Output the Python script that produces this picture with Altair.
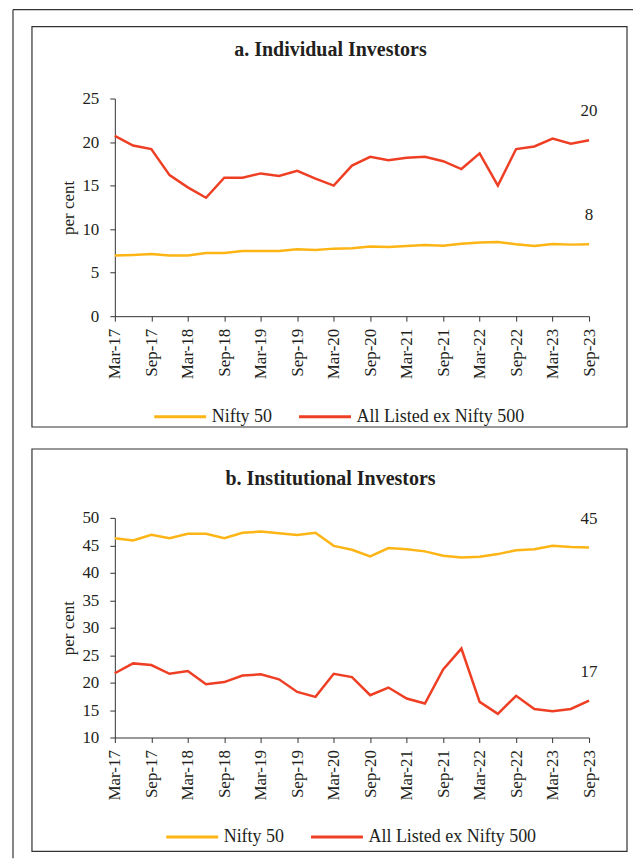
import altair as alt
import pandas as pd

quarters = ["Mar-17", "Jun-17", "Sep-17", "Dec-17", "Mar-18", "Jun-18", "Sep-18",
            "Dec-18", "Mar-19", "Jun-19", "Sep-19", "Dec-19", "Mar-20", "Jun-20",
            "Sep-20", "Dec-20", "Mar-21", "Jun-21", "Sep-21", "Dec-21", "Mar-22",
            "Jun-22", "Sep-22", "Dec-22", "Mar-23", "Jun-23", "Sep-23"]
series_names = ["Nifty 50", "All Listed ex Nifty 500"]
series_colors = ["#FDB515", "#EE3F24"]
panel_titles = ["a. Individual Investors", "b. Institutional Investors"]

ind_nifty50 = [6.96, 7.04, 7.15, 6.96, 6.96, 7.27, 7.27, 7.5, 7.5, 7.5, 7.7, 7.6, 7.76, 7.8,
               8.0, 7.95, 8.07, 8.18, 8.1, 8.33, 8.45, 8.52, 8.26, 8.07, 8.3, 8.22, 8.26]
ind_ex500 = [20.7, 19.6, 19.2, 16.2, 14.8, 13.6, 15.9, 15.9, 16.4, 16.1, 16.7, 15.8, 15.0, 17.3,
             18.3, 17.9, 18.2, 18.3, 17.8, 16.9, 18.7, 15.0, 19.2, 19.5, 20.4, 19.8, 20.2]
inst_nifty50 = [46.3, 45.9, 46.9, 46.3, 47.1, 47.1, 46.3, 47.3, 47.5, 47.2, 46.9, 47.3, 44.9, 44.2,
                43.0, 44.5, 44.3, 43.9, 43.1, 42.8, 42.9, 43.4, 44.1, 44.3, 44.9, 44.7, 44.6]
inst_ex500 = [21.7, 23.5, 23.2, 21.6, 22.1, 19.7, 20.1, 21.3, 21.5, 20.6, 18.3, 17.4, 21.6, 21.0,
              17.7, 19.1, 17.1, 16.2, 22.4, 26.2, 16.5, 14.3, 17.6, 15.2, 14.8, 15.2, 16.7]

FONT = "Liberation Serif"
INK = "#231F20"
LINE = "#333333"
W = 475
N = len(quarters)

label_expr = "[" + ",".join("'%s'" % q for q in quarters) + "][datum.value]"
one = pd.DataFrame({"k": [0]})


def panel(nifty, ex500, title, ydom, ystep, height, box, title_xy, legend_xy, outer=False):
    rows = []
    for name, vals in zip(series_names, [nifty, ex500]):
        for i, v in enumerate(vals):
            rows.append({"idx": i, "series": name, "value": v})
    df = pd.DataFrame(rows)
    ann = pd.DataFrame({
        "idx": [N - 1, N - 1],
        "value": [nifty[-1], ex500[-1]],
        "label": [str(int(round(nifty[-1]))), str(int(round(ex500[-1])))],
    })
    x = alt.X("idx:Q",
              scale=alt.Scale(domain=[0, N - 1], nice=False, zero=False),
              axis=alt.Axis(values=list(range(0, N, 2)), labelExpr=label_expr,
                            labelAngle=-90, title=None, grid=False, tickSize=5,
                            labelPadding=7, labelFlush=False, labelOverlap=False,
                            labelSeparation=0, labelBound=False,
                            domainColor=LINE, tickColor=LINE, labelFont=FONT,
                            labelFontSize=17, labelColor=INK))
    y = alt.Y("value:Q",
              scale=alt.Scale(domain=ydom, nice=False, zero=False),
              axis=alt.Axis(values=list(range(ydom[0], ydom[1] + 1, ystep)),
                            title="per cent", grid=False, tickSize=5, labelPadding=11,
                            labelOverlap=False, labelFlush=False, labelBound=False,
                            domainColor=LINE, tickColor=LINE, labelFont=FONT,
                            labelFontSize=17, labelColor=INK, titleFont=FONT,
                            titleFontSize=17, titleFontWeight="normal",
                            titleColor=INK, titlePadding=4))
    lines = alt.Chart(df).mark_line(strokeWidth=2.5).encode(
        x=x, y=y,
        color=alt.Color("series:N",
                        scale=alt.Scale(domain=series_names, range=series_colors),
                        sort=series_names,
                        legend=alt.Legend(orient="none", legendX=legend_xy[0],
                                          legendY=legend_xy[1], direction="horizontal",
                                          title=None, symbolType="stroke",
                                          symbolSize=2704, symbolStrokeWidth=3,
                                          labelFont=FONT, labelFontSize=18,
                                          labelColor=INK, labelOffset=4,
                                          labelLimit=400, columnPadding=20)),
    )
    texts = alt.Chart(ann).mark_text(dy=-29, font=FONT, fontSize=17, color=INK).encode(
        x=x, y=y, text="label:N")
    frame = alt.Chart(one).mark_rect(filled=False, stroke=LINE, strokeWidth=1.2).encode(
        x=alt.value(box[0]), x2=alt.value(box[1]),
        y=alt.value(box[2]), y2=alt.value(box[3]))
    ttl = alt.Chart(pd.DataFrame({"t": [title]})).mark_text(
        font=FONT, fontSize=20, fontWeight="bold", color=INK, baseline="middle",
        align="center").encode(x=alt.value(title_xy[0]), y=alt.value(title_xy[1]), text="t:N")
    layers = [lines, texts, frame, ttl]
    if outer:
        top_line = alt.Chart(one).mark_rule(color=LINE, strokeWidth=1.2).encode(
            x=alt.value(-102), x2=alt.value(519), y=alt.value(-89))
        left_line = alt.Chart(one).mark_rule(color=LINE, strokeWidth=1.2).encode(
            x=alt.value(-102), y=alt.value(-89), y2=alt.value(761))
        layers = layers + [top_line, left_line]
    return alt.layer(*layers).properties(width=W, height=height)


pa = panel(ind_nifty50, ind_ex500, panel_titles[0], [0, 25], 5, 218,
           (-83, 513, -72, 329), (216, -49), (38, 291), outer=True)
pb = panel(inst_nifty50, inst_ex500, panel_titles[1], [10, 50], 5, 220,
           (-83, 513, -69, 334), (216, -39), (50, 292))

chart = alt.vconcat(pa, pb, spacing=202, bounds="flush").resolve_scale(
    color="independent", y="independent"
).properties(
    padding={"left": 4, "top": 0, "right": 0, "bottom": 0}
).configure_view(strokeWidth=0)

chart.save("out.html", embed_options={"renderer": "svg", "actions": False})
